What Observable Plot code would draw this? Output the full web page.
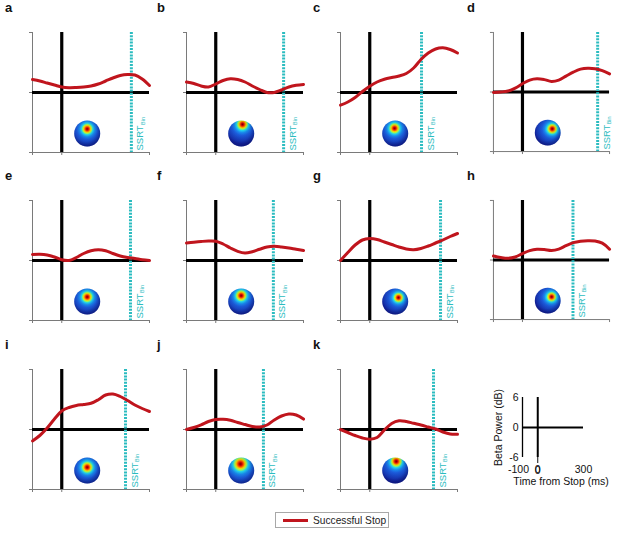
<!DOCTYPE html>
<html>
<head>
<meta charset="utf-8">
<script src="https://cdn.jsdelivr.net/npm/d3@7"></script>
<script src="https://cdn.jsdelivr.net/npm/@observablehq/plot@0.6"></script>
<style>
  html, body { margin: 0; padding: 0; background: #fff; }
  body { font-family: "Liberation Sans", Arial, Helvetica, sans-serif; }
  #root { position: relative; width: 617px; height: 536px; overflow: hidden; }
  .panel { position: absolute; }
  .plabel { position: absolute; font-weight: bold; font-size: 13px; line-height: 13px; color: #111; }
  .legend { position: absolute; box-sizing: border-box; border: 1px solid #a8a8a8; display: flex; align-items: center; font-size: 10.2px; color: #222; }
  .legend .sw { width: 25px; height: 3px; background: #c0151d; margin: 0 5px 0 7px; }
</style>
</head>
<body>
<div id="root"></div>
<script>
// ---------------- data ----------------
const panelIds = ["a", "b", "c", "d", "e", "f", "g", "h", "i", "j", "k"];
const timeMs = [-100, -75, -50, -25, 0, 25, 50, 75, 100, 125, 150, 175, 200, 225, 250, 275, 300];

const betaA = [1.3, 1.15, 0.95, 0.75, 0.55, 0.48, 0.5, 0.55, 0.65, 0.85, 1.15, 1.45, 1.7, 1.8, 1.75, 1.35, 0.7];
const betaB = [1.05, 0.9, 0.65, 0.55, 0.85, 1.2, 1.38, 1.3, 1.05, 0.65, 0.3, 0.0, 0.0, 0.25, 0.55, 0.72, 0.8];
const betaC = [-1.27, -0.95, -0.5, 0.1, 0.63, 1.05, 1.32, 1.5, 1.65, 1.9, 2.45, 3.3, 3.95, 4.35, 4.47, 4.3, 3.95];
const betaD = [-0.05, 0.0, 0.1, 0.4, 0.83, 1.2, 1.33, 1.25, 1.07, 1.2, 1.6, 2.0, 2.3, 2.4, 2.35, 2.15, 1.83];
const betaE = [0.6, 0.62, 0.55, 0.35, 0.07, 0.0, 0.3, 0.7, 0.98, 1.08, 0.98, 0.7, 0.45, 0.3, 0.2, 0.08, 0.0];
const betaF = [1.75, 1.83, 1.9, 1.95, 1.93, 1.65, 1.25, 0.92, 0.75, 0.88, 1.12, 1.35, 1.42, 1.35, 1.25, 1.12, 1.0];
const betaG = [0.0, 0.8, 1.55, 2.05, 2.19, 2.1, 1.85, 1.6, 1.35, 1.15, 1.08, 1.2, 1.45, 1.75, 2.05, 2.4, 2.7];
const betaH = [0.4, 0.25, 0.17, 0.3, 0.65, 0.95, 1.08, 1.05, 0.95, 1.1, 1.45, 1.75, 1.9, 1.95, 1.92, 1.7, 1.08];
const betaI = [-1.14, -0.6, 0.15, 1.05, 1.85, 2.2, 2.4, 2.5, 2.62, 2.98, 3.45, 3.55, 3.3, 2.9, 2.45, 2.1, 1.8];
const betaJ = [0.0, 0.2, 0.47, 0.8, 1.0, 1.02, 0.92, 0.7, 0.5, 0.3, 0.25, 0.45, 0.95, 1.35, 1.55, 1.45, 1.04];
const betaK = [0.0, -0.3, -0.6, -0.85, -0.97, -0.8, -0.05, 0.6, 0.87, 0.8, 0.62, 0.45, 0.25, 0.05, -0.25, -0.45, -0.47];
const betaSeries = [betaA, betaB, betaC, betaD, betaE, betaF, betaG, betaH, betaI, betaJ, betaK];

// SSRT (ms) per panel
const ssrtBin = [238, 232, 177, 259, 235, 197, 242, 174, 218, 163, 218];

// scalp-map hot-spot location (relative to head centre, units of radius) and spread
const hotspotX = [0, 0.1, -0.05, 0.35, 0, 0, 0.25, 0.3, 0, -0.05, 0.08];
const hotspotY = [-0.35, -0.7, -0.4, -0.3, -0.35, -0.45, -0.3, -0.3, -0.25, -0.5, -0.7];
const hotspotSpread = [0.72, 0.75, 0.72, 0.7, 0.72, 0.75, 0.66, 0.66, 0.75, 0.95, 0.78];

const xTicks = [-100, 0, 300];
const yTicks = [-6, 0, 6];
const xLabel = "Time from Stop (ms)";
const yLabel = "Beta Power (dB)";
const ssrtText = "SSRT";
const ssrtSub = "Bin";
const legendLabel = "Successful Stop";

// ---------------- layout / style ----------------
const FONT = "Liberation Sans, Arial, Helvetica, sans-serif";
const RED = "#c0151d", CYAN = "#2bbcc0", GRAY = "#7a7a7a";
const colLeft = [32, 186, 340, 493];
const rowTop = [32, 200, 369];
const labelLeft = [5, 157, 313, 467];
const labelTop = [1, 169, 338];
const W = 117, H = 120;
const M = {l: 8, r: 8, t: 4, b: 8};
const headAt = {x: 87, y: -4.1, r: 13};
const heatStops = [
  [0, "#7a0000"], [0.06, "#d40000"], [0.12, "#ff5a00"], [0.18, "#ffd200"],
  [0.24, "#9bff5a"], [0.31, "#22d8f0"], [0.42, "#1a8ef2"], [0.56, "#1d5fe2"], [1, "#1628a8"]
];

const root = document.getElementById("root");

panelIds.forEach((id, k) => {
  const col = k % 4, row = Math.floor(k / 4);
  const rows = timeMs.map((t, i) => ({t, v: betaSeries[k][i]}));
  const svg = Plot.plot({
    width: W + M.l + M.r, height: H + M.t + M.b,
    marginLeft: M.l, marginRight: M.r, marginTop: M.t, marginBottom: M.b,
    x: {domain: [-100, 300]},
    y: {domain: [-6, 6]},
    style: {fontFamily: FONT, background: "transparent", overflow: "visible"},
    marks: [
      Plot.ruleX([xTicks[0]], {stroke: GRAY, strokeWidth: 1}),
      Plot.ruleY([yTicks[0]], {stroke: GRAY, strokeWidth: 1}),
      Plot.axisX(xTicks, {tickSize: 3, tickFormat: () => "", stroke: GRAY, label: null}),
      Plot.axisY(yTicks, {tickSize: 3, tickFormat: () => "", stroke: GRAY, label: null}),
      Plot.ruleX([0], {stroke: "#000", strokeWidth: 3.2}),
      Plot.ruleY([0], {stroke: "#000", strokeWidth: 3.2}),
      Plot.ruleX([ssrtBin[k]], {x: d => d, stroke: CYAN, strokeWidth: 3, strokeDasharray: "2,1.2"}),
      Plot.line(rows, {x: "t", y: "v", stroke: RED, strokeWidth: 3, curve: "catmull-rom"}),
      Plot.dot([0], {x: headAt.x, y: headAt.y, r: headAt.r, fill: `url(#hg-${id})`}),
      Plot.dot([0], {x: headAt.x, y: headAt.y, r: headAt.r, fill: `url(#sh-${id})`}),
      Plot.text([ssrtBin[k]], {x: d => d, y: -6, text: () => ssrtText, rotate: -90, textAnchor: "start",
        dx: 9, dy: -2, fill: CYAN, fontSize: 9.5}),
      Plot.text([ssrtBin[k]], {x: d => d, y: -6, text: () => ssrtSub, rotate: -90, textAnchor: "start",
        dx: 11.5, dy: -27.5, fill: CYAN, fontSize: 5.5})
    ]
  });
  const defs = d3.select(svg).insert("defs", ":first-child");
  const cx = 0.5 + hotspotX[k] * 0.5, cy = 0.5 + hotspotY[k] * 0.5;
  const hg = defs.append("radialGradient").attr("id", `hg-${id}`)
    .attr("cx", cx).attr("cy", cy).attr("fx", cx).attr("fy", cy).attr("r", hotspotSpread[k]);
  heatStops.forEach(([o, c]) => hg.append("stop").attr("offset", o).attr("stop-color", c));
  const sh = defs.append("radialGradient").attr("id", `sh-${id}`)
    .attr("cx", 0.45).attr("cy", 0.4).attr("r", 0.62);
  sh.append("stop").attr("offset", 0).attr("stop-color", "#000030").attr("stop-opacity", 0);
  sh.append("stop").attr("offset", 0.65).attr("stop-color", "#000040").attr("stop-opacity", 0.1);
  sh.append("stop").attr("offset", 1).attr("stop-color", "#000040").attr("stop-opacity", 0.45);

  const div = document.createElement("div");
  div.className = "panel";
  div.style.left = (colLeft[col] - M.l) + "px";
  div.style.top = (rowTop[row] - M.t) + "px";
  div.appendChild(svg);
  root.appendChild(div);

  const lab = document.createElement("div");
  lab.className = "plabel";
  lab.textContent = id;
  lab.style.left = labelLeft[col] + "px";
  lab.style.top = labelTop[row] + "px";
  root.appendChild(lab);
});

// ---------------- scale key panel ----------------
const SM = {l: 40, r: 30, t: 8, b: 32};
const scaleSvg = Plot.plot({
  width: 61 + SM.l + SM.r, height: 60 + SM.t + SM.b,
  marginLeft: SM.l, marginRight: SM.r, marginTop: SM.t, marginBottom: SM.b,
  x: {domain: [-100, 300]},
  y: {domain: [-6, 6]},
  style: {fontFamily: FONT, fontSize: "10.5px", background: "transparent", overflow: "visible", color: "#111"},
  marks: [
    Plot.ruleX([xTicks[0]], {stroke: "#000", strokeWidth: 1.3}),
    Plot.ruleX([0], {stroke: "#000", strokeWidth: 2}),
    Plot.ruleY([0], {stroke: "#000", strokeWidth: 2}),
    Plot.text(xTicks.filter(d => d < 0), {x: d => d, y: -6, dy: 12, dx: -4, text: d => String(d), fontSize: 10.5}),
    Plot.text(xTicks.filter(d => d >= 0), {x: d => d, y: -6, dy: 12, text: d => String(d), fontSize: 10.5}),
    Plot.axisY(yTicks, {tickSize: 0, tickPadding: 4, label: null, fontSize: 10.5, tickFormat: d => String(d)}),
    Plot.text([xLabel], {frameAnchor: "bottom", lineAnchor: "middle", dy: 24, dx: 8, text: d => d, fontSize: 10.5}),
    Plot.text([yLabel], {frameAnchor: "left", rotate: -90, textAnchor: "middle", lineAnchor: "middle",
      dx: -24, text: d => d, fontSize: 10.5})
  ]
});
const sdiv = document.createElement("div");
sdiv.className = "panel";
sdiv.style.left = (522 - SM.l) + "px";
sdiv.style.top = (397 - SM.t) + "px";
sdiv.appendChild(scaleSvg);
root.appendChild(sdiv);

// ---------------- legend ----------------
const leg = document.createElement("div");
leg.className = "legend";
leg.style.left = "275px"; leg.style.top = "512px"; leg.style.width = "114px"; leg.style.height = "16px";
const sw = document.createElement("div"); sw.className = "sw";
const lt = document.createElement("span"); lt.textContent = legendLabel;
leg.appendChild(sw); leg.appendChild(lt);
root.appendChild(leg);
</script>
</body>
</html>
